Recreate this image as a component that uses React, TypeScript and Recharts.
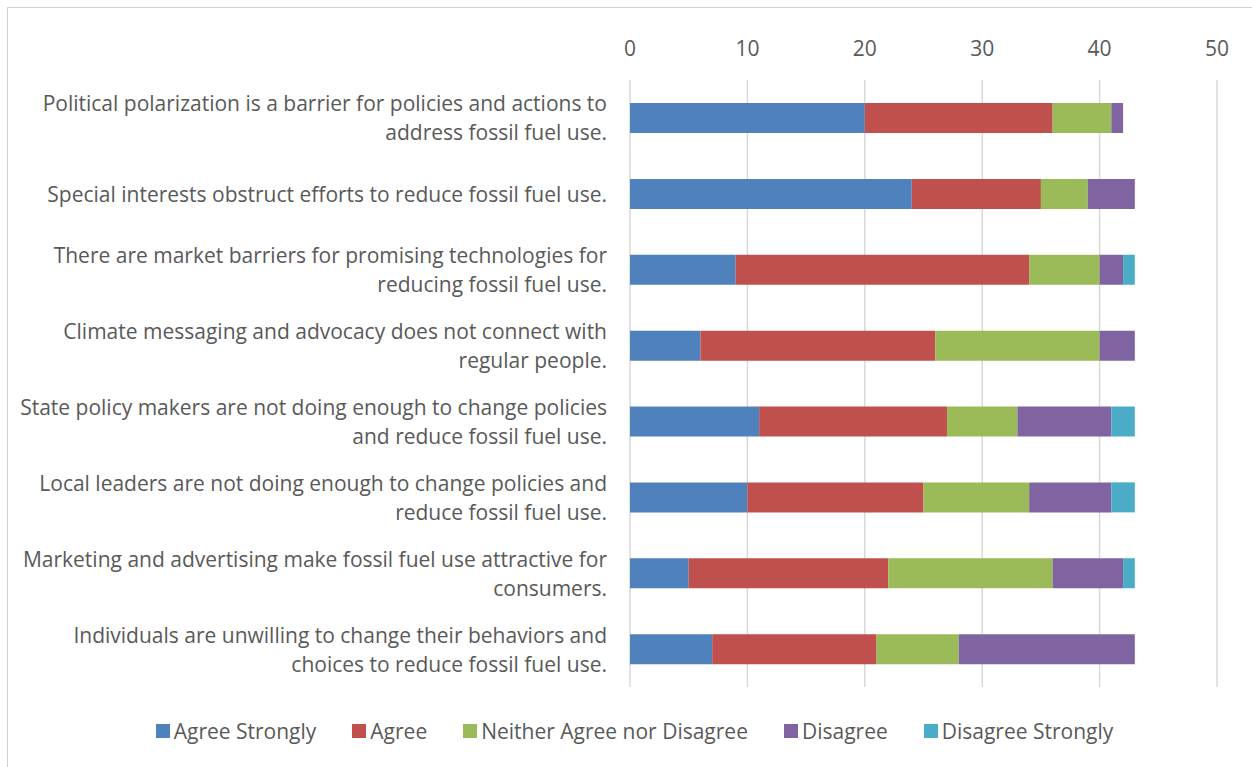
import React from "react";
import {
  Bar,
  BarChart,
  CartesianGrid,
  Legend,
  XAxis,
  YAxis,
} from "recharts";

const categories = [
  "Political polarization is a barrier for policies and actions to\naddress fossil fuel use.",
  "Special interests obstruct efforts to reduce fossil fuel use.",
  "There are market barriers for promising technologies for\nreducing fossil fuel use.",
  "Climate messaging and advocacy does not connect with\nregular people.",
  "State policy makers are not doing enough to change policies\nand reduce fossil fuel use.",
  "Local leaders are not doing enough to change policies and\nreduce fossil fuel use.",
  "Marketing and advertising make fossil fuel use attractive for\nconsumers.",
  "Individuals are unwilling to change their behaviors and\nchoices to reduce fossil fuel use.",
];

const agreeStrongly = [20, 24, 9, 6, 11, 10, 5, 7];
const agree = [16, 11, 25, 20, 16, 15, 17, 14];
const neither = [5, 4, 6, 14, 6, 9, 14, 7];
const disagree = [1, 4, 2, 3, 8, 7, 6, 15];
const disagreeStrongly = [0, 0, 1, 0, 2, 2, 1, 0];

const xTicks = [0, 10, 20, 30, 40, 50];

const series = [
  { key: "agreeStrongly", name: "Agree Strongly", color: "#4f81bd" },
  { key: "agree", name: "Agree", color: "#c0504d" },
  { key: "neither", name: "Neither Agree nor Disagree", color: "#9bbb59" },
  { key: "disagree", name: "Disagree", color: "#8064a2" },
  { key: "disagreeStrongly", name: "Disagree Strongly", color: "#4bacc6" },
];

const data = categories.map((name, i) => ({
  name,
  agreeStrongly: agreeStrongly[i],
  agree: agree[i],
  neither: neither[i],
  disagree: disagree[i],
  disagreeStrongly: disagreeStrongly[i],
}));

const FONT = "'Open Sans', sans-serif";
const TEXT = "#595959";
const FS = 21;

function CategoryTick(props: any) {
  const { y, payload } = props;
  const lines: string[] = String(payload.value).split("\n");
  const lineH = 29;
  const start = y - ((lines.length - 1) * lineH) / 2;
  return (
    <text
      x={599}
      y={start}
      textAnchor="end"
      fill={TEXT}
      fontSize={FS}
      fontFamily={FONT}
      dominantBaseline="central"
    >
      {lines.map((l, i) => (
        <tspan key={i} x={599} y={start + i * lineH} dominantBaseline="central">
          {l}
        </tspan>
      ))}
    </text>
  );
}

function ValueTick(props: any) {
  const { x, payload } = props;
  return (
    <text
      x={x}
      y={40}
      textAnchor="middle"
      dominantBaseline="central"
      fill={TEXT}
      fontSize={FS}
      fontFamily={FONT}
    >
      {payload.value}
    </text>
  );
}

function LegendContent() {
  return (
    <div
      style={{
        display: "flex",
        justifyContent: "center",
        alignItems: "center",
        gap: 36,
        fontFamily: FONT,
        fontSize: FS,
        color: TEXT,
        paddingLeft: 44,
      }}
    >
      {series.map((s) => (
        <div key={s.key} style={{ display: "flex", alignItems: "center", gap: 4 }}>
          <span
            style={{ width: 14, height: 14, background: s.color, display: "inline-block" }}
          />
          <span>{s.name}</span>
        </div>
      ))}
    </div>
  );
}

export default function App() {
  return (
    <div
      style={{
        position: "absolute",
        left: 7,
        top: 7,
        width: 1245,
        height: 760,
        borderTop: "1px solid #d0d0d0",
        borderLeft: "1px solid #d0d0d0",
        boxSizing: "border-box",
      }}
    >
      <BarChart
        width={1244}
        height={759}
        data={data}
        layout="vertical"
        barSize={30}
        margin={{ top: 42, right: 35, bottom: 24, left: 0 }}
      >
        <CartesianGrid horizontal={false} stroke="#d9d9d9" strokeWidth={1.5} />
        <XAxis
          type="number"
          orientation="top"
          domain={[0, 50]}
          ticks={xTicks}
          axisLine={false}
          tickLine={false}
          height={30}
          tick={<ValueTick />}
        />
        <YAxis
          type="category"
          dataKey="name"
          width={622}
          axisLine={false}
          tickLine={false}
          interval={0}
          tick={<CategoryTick />}
        />
        <Legend
          verticalAlign="bottom"
          content={<LegendContent />}
          wrapperStyle={{ paddingTop: 30, height: 56, boxSizing: "border-box" }}
        />
        {series.map((s) => (
          <Bar
            key={s.key}
            dataKey={s.key}
            name={s.name}
            stackId="a"
            fill={s.color}
            isAnimationActive={false}
          />
        ))}
      </BarChart>
    </div>
  );
}
